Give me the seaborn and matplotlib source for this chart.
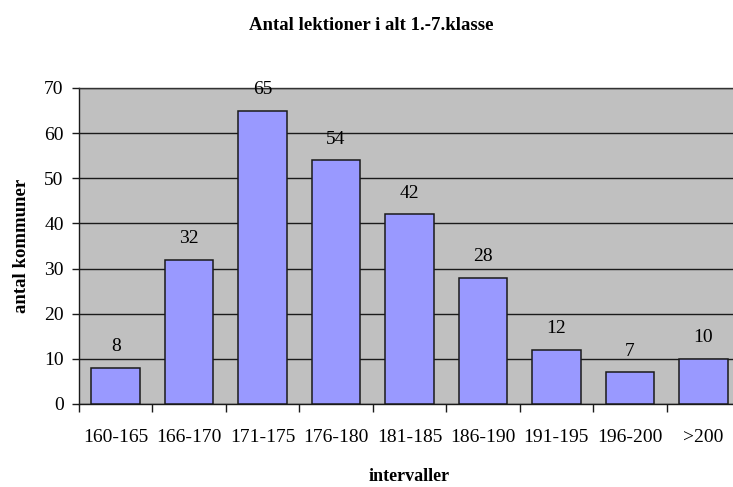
import matplotlib
matplotlib.use("Agg")
import matplotlib.pyplot as plt
import seaborn as sns
import pandas as pd
import numpy as np

categories = ["160-165", "166-170", "171-175", "176-180", "181-185",
              "186-190", "191-195", "196-200", ">200"]
values = [8, 32, 65, 54, 42, 28, 12, 7, 10]
yticks = [0, 10, 20, 30, 40, 50, 60, 70]

sns.set_theme(style="white", rc={"text.color": "black", "axes.labelcolor": "black",
                                 "xtick.color": "black", "ytick.color": "black"})
plt.rcParams['font.family'] = ['Liberation Serif', 'DejaVu Serif']

df = pd.DataFrame({"interval": categories, "antal": values})

fig = plt.figure(figsize=(7.33, 4.87), dpi=100)
ax = fig.add_axes([79/733, 1-404/487, (740-79)/733, (404-88)/487])
ax.set_facecolor("#C0C0C0")

sns.barplot(data=df, x="interval", y="antal", color="#9999FF", width=0.66,
            edgecolor="#1a1a1a", linewidth=1.1, saturation=1, ax=ax, zorder=3)

ax.set_ylim(0, 70)
ax.set_xlim(-0.5, len(categories) - 0.5)
ax.set_yticks(yticks)
ax.yaxis.grid(True, color="#1a1a1a", linewidth=1.0, zorder=0)
ax.set_axisbelow(True)

for spine in ["left", "bottom"]:
    ax.spines[spine].set_color("#1a1a1a")
    ax.spines[spine].set_linewidth(1.0)
ax.spines["top"].set_color("#333333")
ax.spines["top"].set_linewidth(1.0)
ax.spines["right"].set_visible(False)

ax.set_xticks(np.arange(-0.5, len(categories), 1.0), minor=True)
ax.tick_params(axis="x", which="minor", length=6, width=1, color="#1a1a1a", direction="out", bottom=True)
ax.tick_params(axis="x", which="major", length=0, pad=18, labelsize=14, labelcolor="black")
ax.tick_params(axis="y", length=5, width=1, color="#1a1a1a", direction="out", left=True, pad=6,
               labelsize=14, labelcolor="black")

for c in ax.containers:
    ax.bar_label(c, padding=9, fontsize=14, color="black")

ax.set_xlabel("intervaller", fontsize=13, fontweight="bold", labelpad=16, color="black")
ax.set_ylabel("antal kommuner", fontsize=13.5, fontweight="bold", labelpad=10, color="black")
fig.text(0.507, 1-26/487, "Antal lektioner i alt 1.-7.klasse", ha="center", va="center",
         fontsize=13.5, fontweight="bold", color="black")

fig.savefig("out.png", dpi=100)
